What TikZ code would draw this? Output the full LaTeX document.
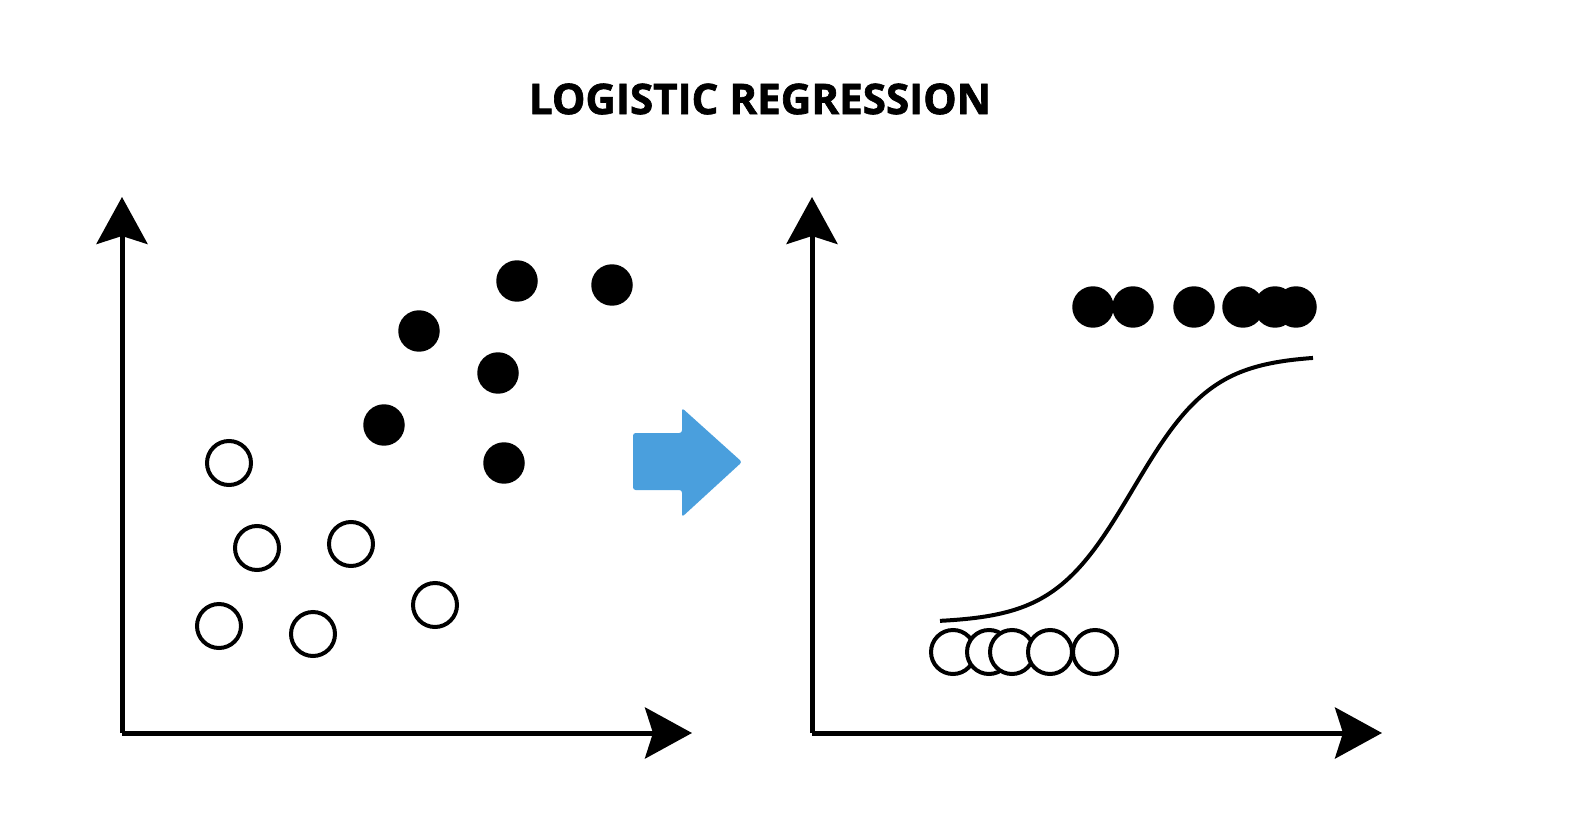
\documentclass[tikz,border=0pt]{standalone}
\usepackage{fontspec}
\newfontfamily\titlefont{Open Sans}[BoldFeatures={FakeBold=1.6}]
\usetikzlibrary{arrows.meta,calc}
\definecolor{arrowblue}{RGB}{74,159,221}
\tikzset{>={Stealth[length=0.94cm,width=1.02cm,inset=0.16cm]}}
\tikzset{
    axis/.style={->,line width=0.1cm},
    yes/.style={circle,fill=black,inner sep=0pt,minimum size=0.83cm},
    no/.style={circle,draw=black,fill=white,line width=0.08cm,inner sep=0pt,minimum size=0.88cm},
    sigmoid/.style={line width=0.08cm}
}

\begin{document}
\begin{tikzpicture}[x=0.02cm,y=-0.02cm]
    \useasboundingbox (0,0) rectangle (1572,814);

    \node (T) at (760,99) {\titlefont\bfseries\fontsize{24}{29}\selectfont LOGISTIC REGRESSION};

    \coordinate (O) at (122,733);
    \coordinate (X) at (692,733);
    \coordinate (Y) at (122,197);

    \coordinate (O') at (812,733);
    \coordinate (X') at (1382,733);
    \coordinate (Y') at (812,197);

    \draw[axis](O)--(X);
    \draw[axis](O)--(Y);
    \draw[axis](O')--(X');
    \draw[axis](O')--(Y');

    \node[yes] (A1) at (517,281) {};
    \node[yes] (A2) at (612,285) {};
    \node[yes] (A3) at (419,331) {};
    \node[yes] (A4) at (498,373) {};
    \node[yes] (A5) at (384,425) {};
    \node[yes] (A6) at (504,463) {};

    \node[no] (B1) at (229,463) {};
    \node[no] (B2) at (257,548) {};
    \node[no] (B3) at (351,544) {};
    \node[no] (B4) at (219,626) {};
    \node[no] (B5) at (313,634) {};
    \node[no] (B6) at (435,605) {};

    \fill[arrowblue,rounded corners=1.5pt] (633,433) -- (682,433) -- (682,408) -- (742,462) -- (682,517) -- (682,490) -- (633,490) -- cycle;

    \draw[sigmoid] plot[domain=940:1313,samples=90,smooth] (\x,{623-268/(1+exp(-0.025*(\x-1133)))});

    \node[yes] (A1') at (1093,307) {};
    \node[yes] (A2') at (1133,307) {};
    \node[yes] (A3') at (1194,307) {};
    \node[yes] (A4') at (1243,307) {};
    \node[yes] (A5') at (1275,307) {};
    \node[yes] (A6') at (1296,307) {};

    \node[no] (B1') at (953,652) {};
    \node[no] (B2') at (989,652) {};
    \node[no] (B3') at (1012,652) {};
    \node[no] (B4') at (1050,652) {};
    \node[no] (B5') at (1095,652) {};
\end{tikzpicture}
\end{document}
